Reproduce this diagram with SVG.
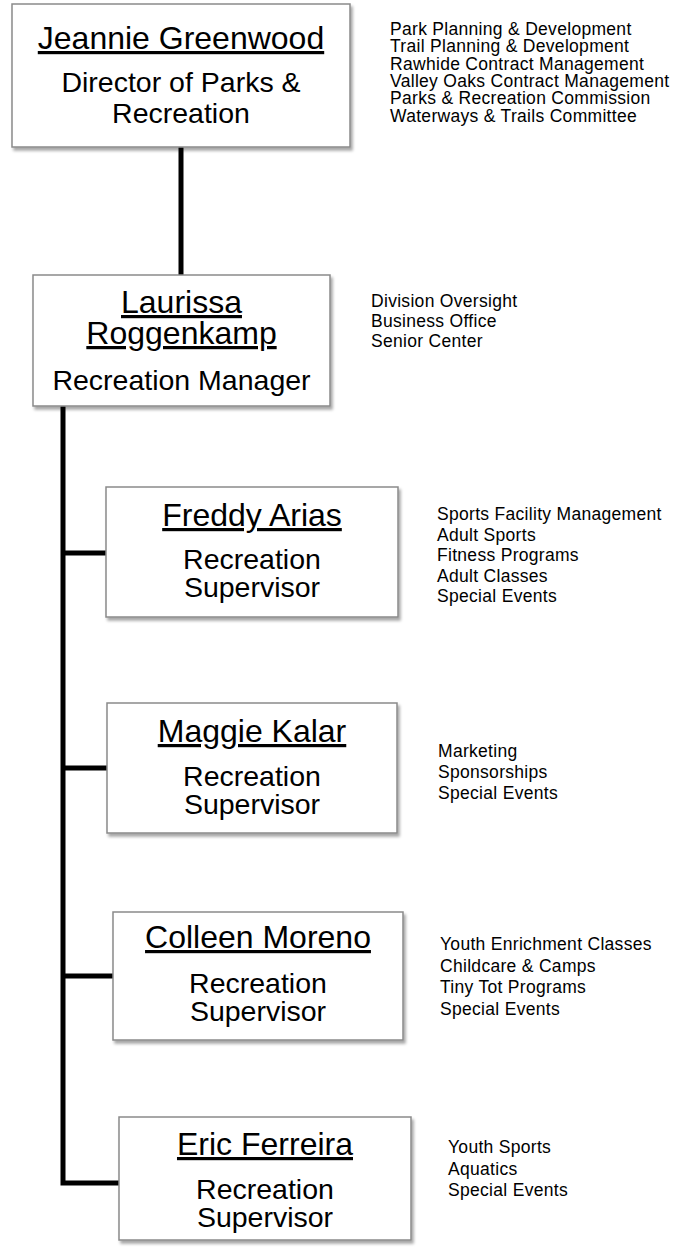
<svg xmlns="http://www.w3.org/2000/svg" width="684" height="1251" viewBox="0 0 684 1251">
  <defs>
    <filter id="shadow" x="-5%" y="-5%" width="115%" height="120%">
      <feDropShadow dx="2" dy="3" stdDeviation="1.8" flood-color="#000" flood-opacity="0.35"/>
    </filter>
    <style>
      .box { fill: #ffffff; stroke: #8a8a8a; stroke-width: 1.5; filter: url(#shadow); }
      .name { font-family: "Liberation Sans", Arial, sans-serif; font-size: 32px; fill: #000; text-anchor: middle; text-decoration: underline; }
      .role { font-family: "Liberation Sans", Arial, sans-serif; font-size: 28.5px; fill: #000; text-anchor: middle; }
      .duty { font-family: "Liberation Sans", Arial, sans-serif; font-size: 17.5px; letter-spacing: 0.3px; fill: #000; }
      .wire { fill: none; stroke: #000; stroke-width: 5; stroke-linejoin: miter; stroke-linecap: butt; }
    </style>
  </defs>
  <rect width="684" height="1251" fill="#ffffff"/>

  <!-- reporting lines -->
  <g id="connectors">
    <path class="wire" d="M181,147 V275"/>
    <path class="wire" d="M63,406 V1183 H119"/>
    <path class="wire" d="M63,553 H106"/>
    <path class="wire" d="M63,768 H107"/>
    <path class="wire" d="M63,976 H113"/>
  </g>

  <g id="jeannie-greenwood">
    <rect class="box" x="12" y="4" width="338" height="143"/>
    <text class="name" x="181" y="49">Jeannie Greenwood</text>
    <text class="role" x="181" y="92">Director of Parks &amp;</text>
    <text class="role" x="181" y="123">Recreation</text>
  </g>
  <g id="jeannie-duties">
    <text class="duty" x="390" y="35">Park Planning &amp; Development</text>
    <text class="duty" x="390" y="52.3">Trail Planning &amp; Development</text>
    <text class="duty" x="390" y="69.6">Rawhide Contract Management</text>
    <text class="duty" x="390" y="87">Valley Oaks Contract Management</text>
    <text class="duty" x="390" y="104.3">Parks &amp; Recreation Commission</text>
    <text class="duty" x="390" y="121.6">Waterways &amp; Trails Committee</text>
  </g>

  <g id="laurissa-roggenkamp">
    <rect class="box" x="33" y="275" width="297" height="131"/>
    <text class="name" x="181.5" y="313">Laurissa</text>
    <text class="name" x="181.5" y="344">Roggenkamp</text>
    <text class="role" x="181.5" y="390">Recreation Manager</text>
  </g>
  <g id="laurissa-duties">
    <text class="duty" x="371" y="307">Division Oversight</text>
    <text class="duty" x="371" y="327">Business Office</text>
    <text class="duty" x="371" y="347">Senior Center</text>
  </g>

  <g id="freddy-arias">
    <rect class="box" x="106" y="487" width="292" height="130"/>
    <text class="name" x="252" y="526">Freddy Arias</text>
    <text class="role" x="252" y="569">Recreation</text>
    <text class="role" x="252" y="597">Supervisor</text>
  </g>
  <g id="freddy-duties">
    <text class="duty" x="437" y="520">Sports Facility Management</text>
    <text class="duty" x="437" y="540.5">Adult Sports</text>
    <text class="duty" x="437" y="561">Fitness Programs</text>
    <text class="duty" x="437" y="581.5">Adult Classes</text>
    <text class="duty" x="437" y="602">Special Events</text>
  </g>

  <g id="maggie-kalar">
    <rect class="box" x="107" y="703" width="290" height="130"/>
    <text class="name" x="252" y="742">Maggie Kalar</text>
    <text class="role" x="252" y="786">Recreation</text>
    <text class="role" x="252" y="814">Supervisor</text>
  </g>
  <g id="maggie-duties">
    <text class="duty" x="438" y="757">Marketing</text>
    <text class="duty" x="438" y="778">Sponsorships</text>
    <text class="duty" x="438" y="799">Special Events</text>
  </g>

  <g id="colleen-moreno">
    <rect class="box" x="113" y="912" width="290" height="128"/>
    <text class="name" x="258" y="948">Colleen Moreno</text>
    <text class="role" x="258" y="993">Recreation</text>
    <text class="role" x="258" y="1021">Supervisor</text>
  </g>
  <g id="colleen-duties">
    <text class="duty" x="440" y="950">Youth Enrichment Classes</text>
    <text class="duty" x="440" y="971.5">Childcare &amp; Camps</text>
    <text class="duty" x="440" y="993">Tiny Tot Programs</text>
    <text class="duty" x="440" y="1014.5">Special Events</text>
  </g>

  <g id="eric-ferreira">
    <rect class="box" x="119" y="1117" width="292" height="123"/>
    <text class="name" x="265" y="1155">Eric Ferreira</text>
    <text class="role" x="265" y="1199">Recreation</text>
    <text class="role" x="265" y="1227">Supervisor</text>
  </g>
  <g id="eric-duties">
    <text class="duty" x="448" y="1153">Youth Sports</text>
    <text class="duty" x="448" y="1174.5">Aquatics</text>
    <text class="duty" x="448" y="1196">Special Events</text>
  </g>
</svg>
